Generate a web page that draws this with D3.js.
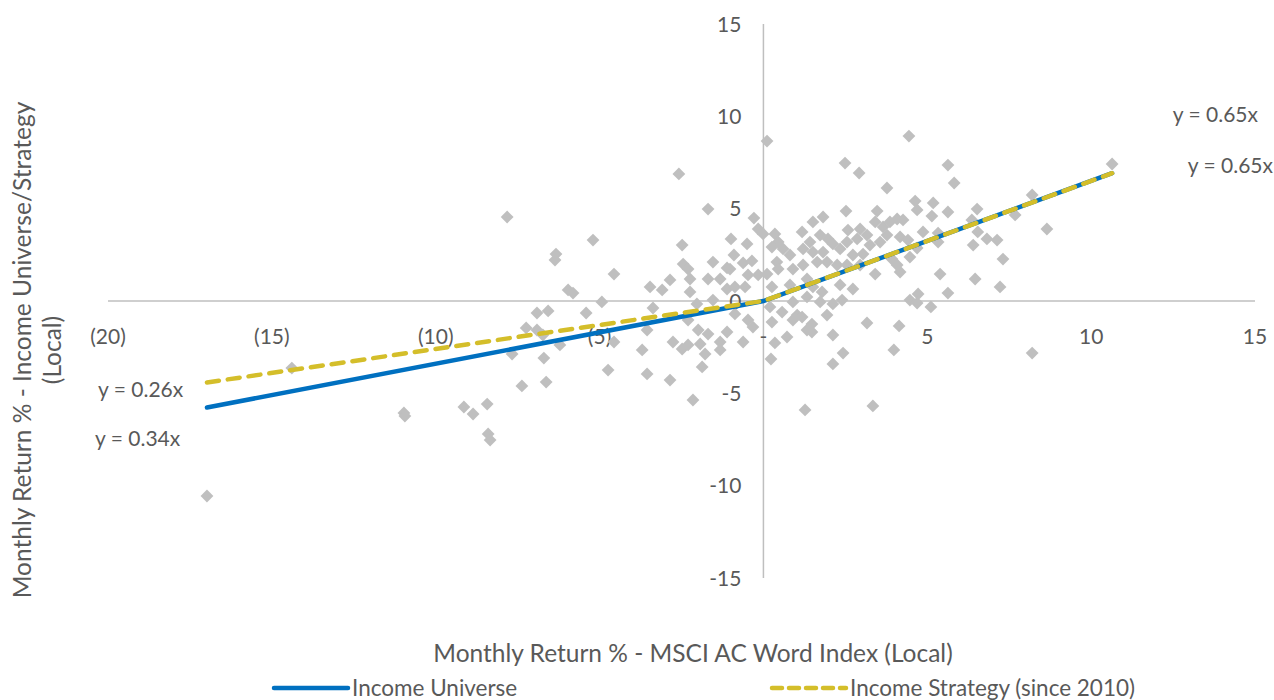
<!DOCTYPE html>
<html>
<head>
<meta charset="utf-8">
<script src="https://cdn.jsdelivr.net/npm/d3@7"></script>
<style>
  body { margin: 0; background: #fff; }
  text { font-family: Lato, "Open Sans", sans-serif; fill: #595959; }
</style>
</head>
<body>
<div id="chart"></div>
<script>
// tick values
const xTicks = [-20, -15, -10, -5, 0, 5, 10, 15];
const yTicks = [-15, -10, -5, 0, 5, 10, 15];

// monthly returns: MSCI AC World (x) vs income universe/strategy (y)
const msci = [
  -16.98, -14.39, -10.97, -10.94, -9.14, -8.86, -8.43, -8.40, -8.34, -7.82,
  -7.67, -7.37, -7.24, -6.91, -6.91, -6.73, -6.70, -6.63, -6.57, -6.36,
  -6.33, -6.21, -5.96, -5.81, -5.41, -5.20, -4.93, -4.74, -4.56, -4.56,
  -2.58, -1.69, 0.11, -0.29, -0.16, -0.01, -0.99, -0.50, -2.48, -0.90,
  -2.45, -2.30, -1.54, -1.11, -0.62, -0.35, -0.47, -0.16, -2.85, -2.24,
  -1.69, -1.32, -1.02, -3.46, -3.09, -2.24, -1.11, -0.87, -0.56, -2.03,
  -1.54, -3.37, -3.55, -3.70, -2.76, -2.48, -2.30, -1.93, -1.69, -1.99,
  -2.30, -1.78, -1.87, -1.32, -1.11, -1.32, -0.62, -0.47, -0.32, -0.87,
  -3.55, -2.85, -2.15, 0.23, 2.49, 2.92, 3.77, 2.52, 3.47, 1.82,
  1.51, 0.35, 1.18, 2.58, 2.95, 3.41, 3.65, 0.45, 0.26, 0.60,
  0.81, 0.41, 1.73, 1.97, 2.12, 1.42, 1.21, 1.51, 1.82, 2.34,
  2.55, 2.86, 3.16, 3.25, 3.56, 3.77, 2.73, 3.04, 1.64, 1.94,
  2.25, 2.55, 2.95, 1.21, 0.90, 3.41, 0.11, 1.33, 0.45, 0.26,
  0.81, 1.51, 1.79, 1.33, 1.73, 2.12, 2.40, 2.34, 2.73, 0.90,
  0.20, 0.57, 1.03, 1.18, 0.90, 1.94, 0.26, 1.48, 1.33, 1.48,
  0.72, 2.12, 3.16, 0.35, 2.43, 2.12, 1.27, 3.34, 4.44, 5.63,
  5.82, 4.63, 5.18, 4.69, 5.63, 6.52, 5.14, 4.08, 4.26, 3.86,
  6.36, 4.87, 5.33, 6.54, 4.17, 4.41, 6.82, 7.13, 6.40, 5.33,
  4.69, 7.31, 4.08, 4.47, 3.92, 5.39, 6.46, 4.17, 7.22, 5.63,
  4.72, 4.47, 4.69, 5.11, 4.14, 3.98, 10.64, 8.20, 7.68, 8.65,
  8.20
];
const income = [
  -10.56, -3.63, -6.06, -6.23, -5.74, -6.12, -5.58, -7.20, -7.53, 4.55,
  -2.87, -4.60, -1.46, -0.65, -1.57, -1.84, -3.09, -4.39, -0.54, 2.22,
  2.54, -2.38, 0.60, 0.43, -0.65, 3.30, -0.05, -3.74, 1.46, -2.22,
  6.88, 4.98, 8.66, 4.49, 3.90, 3.63, 3.36, 3.09, 3.03, 2.49,
  2.00, 1.73, 2.11, 1.79, 2.06, 2.17, 1.41, 1.41, 1.14, 1.19,
  1.19, 1.19, 1.73, 0.76, 0.60, 0.49, 0.65, 0.76, 0.76, -0.16,
  0.05, -0.38, -1.57, -2.65, -2.22, -2.60, -2.38, -2.33, -1.79, -1.57,
  -1.03, -2.87, -3.57, -2.22, -1.68, -2.65, -2.22, -1.03, -1.41, -0.70,
  -3.95, -4.28, -5.36, -3.14, 7.47, 6.93, 6.12, 4.87, 4.87, 4.55,
  4.28, 3.63, 3.74, 3.84, 3.90, 4.28, 4.01, 3.19, 2.92, 2.82,
  2.49, 2.11, 3.57, 3.36, 3.09, 3.19, 2.82, 2.65, 2.65, 2.82,
  3.19, 3.36, 3.57, 3.03, 3.19, 3.57, 2.49, 2.54, 2.11, 2.11,
  1.95, 1.95, 1.95, 1.95, 1.73, 1.46, 1.46, 1.19, 1.73, 0.76,
  0.87, 0.76, 0.49, 0.22, -0.05, -0.16, 0.05, 0.87, 0.65, -0.05,
  -0.32, -0.60, -0.76, -0.87, -1.03, -0.76, -1.14, -1.25, -1.57, -1.68,
  -1.95, -1.84, -1.19, -2.27, -2.82, -3.41, -5.90, -5.68, 8.93, 7.36,
  6.39, 5.41, 5.31, 4.93, 4.82, 4.98, 4.60, 4.44, 4.39, 4.28,
  4.39, 3.74, 3.68, 3.74, 3.47, 3.30, 3.36, 3.30, 3.03, 3.19,
  2.87, 2.27, 1.95, 2.38, 2.27, 1.46, 1.19, 1.57, 0.76, 0.43,
  0.38, 0.05, -0.11, -0.32, -1.35, -2.65, 7.42, 5.74, 4.66, 3.90,
  -2.82
];

// trend lines (slope below / above zero)
const universeLine = [[-16.98, -5.77], [0, 0], [10.64, 6.92]];
const strategyLine = [[-16.98, -4.41], [0, 0], [10.64, 6.92]];
const equationLabels = ["y = 0.65x", "y = 0.65x", "y = 0.26x", "y = 0.34x"];

const width = 1274;
const height = 700;
const blue = "#0070C0";
const gold = "#D4BE2A";
const axisGrey = "#BFBFBF";

const svg = d3.select("#chart")
  .append("svg")
  .attr("width", width)
  .attr("height", height);

const x = d3.scaleLinear().domain([-20, 15]).range([108, 1255]);
const y = d3.scaleLinear().domain([-15, 15]).range([578, 24]);

// axes crossing at zero
svg.append("line")
  .attr("x1", x(-20)).attr("x2", x(15))
  .attr("y1", y(0)).attr("y2", y(0))
  .attr("stroke", axisGrey).attr("stroke-width", 1.5);
svg.append("line")
  .attr("x1", x(0)).attr("x2", x(0))
  .attr("y1", y(15)).attr("y2", y(-15))
  .attr("stroke", axisGrey).attr("stroke-width", 1.5);

const fmtX = d => d < 0 ? `(${-d})` : d === 0 ? "-" : d;

svg.append("g")
  .selectAll("text")
  .data(xTicks)
  .join("text")
  .attr("x", d => x(d))
  .attr("y", y(0) + 43)
  .attr("text-anchor", "middle")
  .attr("font-size", 21)
  .text(fmtX);

svg.append("g")
  .selectAll("text")
  .data(yTicks)
  .join("text")
  .attr("x", x(0) - 22)
  .attr("y", d => y(d) + 7.5)
  .attr("text-anchor", "end")
  .attr("font-size", 21)
  .text(d => d);

// scatter
const points = msci.map((v, i) => ({mx: v, iy: income[i]}));
svg.append("g")
  .selectAll("path")
  .data(points)
  .join("path")
  .attr("d", d3.symbol(d3.symbolSquare, 82))
  .attr("transform", d => `translate(${x(d.mx)},${y(d.iy)}) rotate(45)`)
  .attr("fill", axisGrey);

const line = d3.line().x(d => x(d[0])).y(d => y(d[1]));

svg.append("path")
  .datum(universeLine)
  .attr("d", line)
  .attr("fill", "none")
  .attr("stroke", blue)
  .attr("stroke-width", 4.5)
  .attr("stroke-linecap", "round");

svg.append("path")
  .datum(strategyLine)
  .attr("d", line)
  .attr("fill", "none")
  .attr("stroke", gold)
  .attr("stroke-width", 4.5)
  .attr("stroke-linecap", "round")
  .attr("stroke-dasharray", "12 9");

// trendline equations
const eqPos = [[1258, 122, "end"], [1273, 173, "end"], [98, 397, "start"], [95, 446, "start"]];
svg.append("g")
  .selectAll("text")
  .data(equationLabels)
  .join("text")
  .attr("x", (d, i) => eqPos[i][0])
  .attr("y", (d, i) => eqPos[i][1])
  .attr("text-anchor", (d, i) => eqPos[i][2])
  .attr("font-size", 21)
  .text(d => d);

// axis titles
svg.append("text")
  .attr("x", 693)
  .attr("y", 662)
  .attr("text-anchor", "middle")
  .attr("font-size", 24.5)
  .text("Monthly Return % - MSCI AC Word Index (Local)");

const yTitle = svg.append("text")
  .attr("transform", "translate(0,350) rotate(-90)")
  .attr("text-anchor", "middle")
  .attr("font-size", 24.5);
yTitle.append("tspan").attr("x", 0).attr("y", 31).text("Monthly Return % - Income Universe/Strategy");
yTitle.append("tspan").attr("x", 0).attr("y", 61).text("(Local)");

// legend
const legend = [
  {name: "Income Universe", color: blue, dash: null, x0: 272},
  {name: "Income Strategy (since 2010)", color: gold, dash: "10 7", x0: 770}
];
const lg = svg.append("g")
  .selectAll("g")
  .data(legend)
  .join("g")
  .attr("transform", d => `translate(${d.x0},688)`);
lg.append("line")
  .attr("x1", 2).attr("x2", 76)
  .attr("stroke", d => d.color)
  .attr("stroke-width", 4.5)
  .attr("stroke-linecap", "round")
  .attr("stroke-dasharray", d => d.dash);
lg.append("text")
  .attr("x", 80)
  .attr("y", 8)
  .attr("font-size", 22.5)
  .text(d => d.name);
</script>
</body>
</html>
